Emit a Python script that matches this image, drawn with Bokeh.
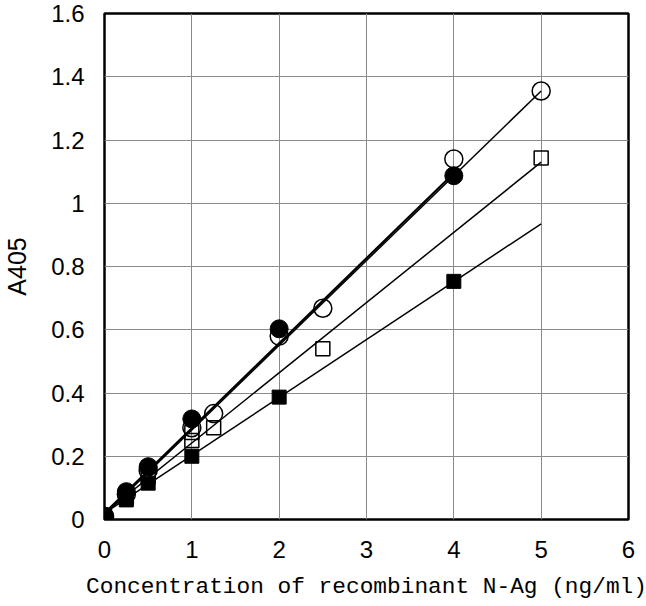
from bokeh.plotting import figure
from bokeh.models import Range1d, FixedTicker
from bokeh.embed import file_html
from bokeh.resources import INLINE

# ---- data ----
fc_x = [0, 0.25, 0.5, 1, 2, 4]
fc_y = [0.01, 0.088, 0.167, 0.318, 0.603, 1.087]
oc_x = [0, 0.25, 0.5, 1, 1.25, 2, 2.5, 4, 5]
oc_y = [0.01, 0.08, 0.155, 0.29, 0.335, 0.58, 0.668, 1.14, 1.355]
os_x = [0, 0.25, 0.5, 1, 1, 1.25, 2.5, 5]
os_y = [0.01, 0.07, 0.135, 0.25, 0.275, 0.29, 0.54, 1.143]
fs_x = [0, 0.25, 0.5, 1, 2, 4]
fs_y = [0.005, 0.062, 0.115, 0.2, 0.387, 0.753]

# fitted lines (end points)
fc_fit_x = [0, 4]
fc_fit_y = [0.02, 1.095]
oc_fit_x = [0, 5]
oc_fit_y = [0.015, 1.355]
os_fit_x = [0, 5]
os_fit_y = [0.02, 1.13]
fs_fit_x = [0, 5]
fs_fit_y = [0.02, 0.935]

x_ticks = [0, 1, 2, 3, 4, 5, 6]
x_labels = ["0", "1", "2", "3", "4", "5", "6"]
y_ticks = [0, 0.2, 0.4, 0.6, 0.8, 1.0, 1.2, 1.4, 1.6]
y_labels = ["0", "0.2", "0.4", "0.6", "0.8", "1", "1.2", "1.4", "1.6"]

p = figure(width=646, height=606, output_backend="svg", toolbar_location=None,
           x_range=Range1d(0, 6), y_range=Range1d(0, 1.6),
           min_border_left=103, min_border_right=18, min_border_top=13,
           min_border_bottom=87)

p.background_fill_color = "white"
p.border_fill_color = "white"
p.outline_line_color = "black"
p.outline_line_width = 2.5

p.xaxis.ticker = FixedTicker(ticks=x_ticks)
p.yaxis.ticker = FixedTicker(ticks=y_ticks)
p.xaxis.major_label_overrides = {t: l for t, l in zip(x_ticks, x_labels)}
p.yaxis.major_label_overrides = {t: l for t, l in zip(y_ticks, y_labels)}

for ax in (p.xaxis, p.yaxis):
    ax.axis_line_color = None
    ax.major_tick_line_color = None
    ax.minor_tick_line_color = None
    ax.major_tick_out = 0
    ax.major_tick_in = 0
    ax.major_label_text_font = "Liberation Sans"
    ax.major_label_text_font_size = "24px"
    ax.major_label_text_color = "black"
    ax.axis_label_text_font_style = "normal"
    ax.axis_label_text_color = "black"

p.yaxis.major_label_standoff = 20
p.xaxis.major_label_standoff = 21
p.yaxis.axis_label = "A405"
p.yaxis.axis_label_text_font = "Liberation Sans"
p.yaxis.axis_label_text_font_size = "25px"
p.yaxis.axis_label_standoff = 17
p.xaxis.axis_label = "Concentration of recombinant N-Ag (ng/ml)"
p.xaxis.axis_label_text_font = "Liberation Mono"
p.xaxis.axis_label_text_font_size = "22.8px"
p.xaxis.axis_label_standoff = 13

p.xgrid.grid_line_color = "#8a8a8a"
p.ygrid.grid_line_color = "#8a8a8a"
p.xgrid.grid_line_width = 1
p.ygrid.grid_line_width = 1

# fit lines
p.line(fc_fit_x, fc_fit_y, line_color="black", line_width=2.2)
p.line(oc_fit_x, oc_fit_y, line_color="black", line_width=1.5)
p.line(os_fit_x, os_fit_y, line_color="black", line_width=1.5)
p.line(fs_fit_x, fs_fit_y, line_color="black", line_width=1.5)

# markers
p.scatter(os_x, os_y, marker="square", size=14, fill_color=None,
          line_color="black", line_width=1.5)
p.scatter(oc_x, oc_y, marker="circle", size=18, fill_color=None,
          line_color="black", line_width=1.5)
p.scatter(fs_x, fs_y, marker="square", size=14, fill_color="black",
          line_color="black", line_width=1)
p.scatter(fc_x, fc_y, marker="circle", size=18, fill_color="black",
          line_color="black", line_width=1)

open("out.html", "w").write(file_html(p, INLINE))
